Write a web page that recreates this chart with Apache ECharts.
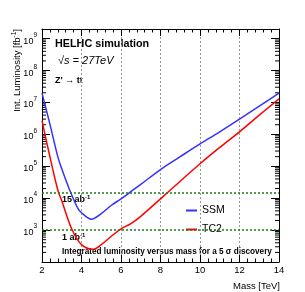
<!DOCTYPE html>
<html>
<head>
<meta charset="utf-8">
<script src="https://cdn.jsdelivr.net/npm/echarts@6/dist/echarts.min.js"></script>
<style>html,body{margin:0;padding:0;background:#fff}#c{width:305px;height:292px}</style>
</head>
<body>
<div id="c"></div>
<script>
// Mass points [TeV]
const massSSM = [2.0, 2.4, 2.8, 3.0, 3.4, 3.8, 4.0, 4.5, 5.0, 5.5, 6.0, 6.5, 7.0, 8.0, 9.0, 10.0, 11.0, 12.0, 13.0, 14.0];
const lumiSSM = [1.95e7, 2.1e6, 2.0e5, 8.3e4, 1.8e4, 5.0e3, 3.5e3, 2.2e3, 3.3e3, 5.9e3, 9.5e3, 1.6e4, 2.7e4, 7.9e4, 2.0e5, 5.0e5, 1.2e6, 3.0e6, 7.6e6, 1.95e7];
const massTC2 = [2.0, 2.4, 2.8, 3.0, 3.5, 4.0, 4.6, 5.0, 5.5, 6.0, 6.5, 7.0, 8.0, 9.0, 10.0, 11.0, 12.0, 13.0, 14.0];
const lumiTC2 = [2.7e6, 2.0e5, 1.8e4, 8.3e3, 1.1e3, 3.5e2, 2.5e2, 3.5e2, 6.3e2, 1.1e3, 1.6e3, 2.7e3, 9.5e3, 3.4e4, 1.2e5, 3.9e5, 1.2e6, 4.0e6, 1.3e7];
// Reference luminosity lines [fb^-1]
const refLumi = [15000, 1000];
const refLabels = ['15 ab{sup|-1}', '1 ab{sup|-1}'];
const seriesNames = ['SSM', 'TC2'];
const xTicks = [2, 4, 6, 8, 10, 12, 14];
// Log-axis minor tick layout (multipliers within each decade)
const yDecades = [1e2, 1e3, 1e4, 1e5, 1e6, 1e7, 1e8, 1e9];
const yMinorMult = [2, 3, 4, 5, 6, 7, 8, 9];

const chart = echarts.init(document.getElementById('c'), null, {renderer: 'canvas'});
const FONT = 'Liberation Sans, Arial, Helvetica, sans-serif';
const toPairs = (xs, ys) => xs.map((x, i) => [x, ys[i]]);
const Y_MIN = 100, Y_MAX = 2e9;
const minorTickData = [];
yDecades.forEach(d => yMinorMult.forEach(m => { if (d * m < Y_MAX) minorTickData.push([2, d * m]); }));

function yLabel(v) {
  const l = Math.log10(v);
  const e = Math.round(l);
  if (Math.abs(l - e) > 0.01) return '';
  return '{b|10}{s|' + e + '}';
}

const baseY = {
  type: 'log', logBase: 10, min: Y_MIN, max: Y_MAX,
  axisLine: {show: true, onZero: false, lineStyle: {color: '#000', width: 1}},
  axisTick: {show: true, inside: true, length: 8, lineStyle: {color: '#000'}},
  splitLine: {show: false},
};
const baseX = {
  type: 'value', min: 2, max: 14, interval: 2,
  axisLine: {show: true, onZero: false, lineStyle: {color: '#000', width: 1}},
  axisTick: {show: true, inside: true, length: 7, lineStyle: {color: '#000'}},
  minorTick: {show: true, splitNumber: 5, length: 3.5, lineStyle: {color: '#000'}},
};

chart.setOption({
  animation: false,
  backgroundColor: '#fff',
  textStyle: {fontFamily: FONT},
  grid: {left: 42, right: 26, top: 29, bottom: 30, containLabel: false},
  xAxis: [
    Object.assign({}, baseX, {
      position: 'bottom',
      splitLine: {show: true, lineStyle: {color: '#999', type: [2, 2], width: 1}},
      axisLabel: {show: true, margin: 3, fontSize: 9.5, color: '#000', fontFamily: FONT,
        formatter: v => xTicks.includes(v) ? String(v) : ''},
      name: 'Mass [TeV]', nameLocation: 'end', nameGap: 1,
      nameTextStyle: {fontSize: 9.5, color: '#000', fontFamily: FONT, align: 'right', verticalAlign: 'top', padding: [19, 0, 0, 0]}
    }),
    Object.assign({}, baseX, {position: 'top', splitLine: {show: false}, axisLabel: {show: false}})
  ],
  yAxis: [
    Object.assign({}, baseY, {
      position: 'left',
      axisLabel: {show: true, margin: 5, color: '#000', fontFamily: FONT, formatter: yLabel,
        showMinLabel: false, showMaxLabel: false,
        rich: {b: {fontSize: 9, fontFamily: FONT, color: '#000', lineHeight: 14, verticalAlign: 'bottom'},
               s: {fontSize: 6.5, fontFamily: FONT, color: '#000', lineHeight: 14, verticalAlign: 'top'}}}
    }),
    Object.assign({}, baseY, {position: 'right', axisLabel: {show: false}})
  ],
  legend: {
    show: true, orient: 'vertical', left: 181, top: 200,
    data: seriesNames, icon: 'rect', itemWidth: 11, itemHeight: 2, itemGap: 8,
    textStyle: {fontSize: 10.5, color: '#000', fontFamily: FONT},
    selectedMode: false
  },
  series: [
    {
      name: seriesNames[0], type: 'line', data: toPairs(massSSM, lumiSSM), smooth: 0.35, symbol: 'none',
      lineStyle: {color: '#3333ff', width: 1.5}, itemStyle: {color: '#3333ff'},
      markLine: {
        silent: true, symbol: 'none', animation: false,
        lineStyle: {color: '#1a7a1a', type: [2, 2], width: 1.5},
        label: {show: false},
        data: refLumi.map(v => ({yAxis: v}))
      }
    },
    {
      name: seriesNames[1], type: 'line', data: toPairs(massTC2, lumiTC2), smooth: 0.35, symbol: 'none',
      lineStyle: {color: '#ff0000', width: 1.5}, itemStyle: {color: '#ff0000'}
    },
    {
      name: 'yMinorTicks', type: 'custom', silent: true, clip: false,
      data: minorTickData,
      encode: {x: 0, y: 1},
      renderItem: function (params, api) {
        const cs = params.coordSys;
        const p = api.coord([api.value(0), api.value(1)]);
        const st = {stroke: '#000', lineWidth: 1};
        return {type: 'group', children: [
          {type: 'line', shape: {x1: cs.x, y1: p[1], x2: cs.x + 4, y2: p[1]}, style: st},
          {type: 'line', shape: {x1: cs.x + cs.width - 4, y1: p[1], x2: cs.x + cs.width, y2: p[1]}, style: st}
        ]};
      }
    }
  ],
  graphic: [
    {type: 'text', x: 17, y: 29, rotation: Math.PI / 2,
      style: {text: 'Int. Luminosity [fb{sup|-1}]', align: 'right', verticalAlign: 'middle',
        font: '9.5px ' + FONT, fill: '#000',
        rich: {sup: {fontSize: 6.5, fontFamily: FONT, verticalAlign: 'top', lineHeight: 13}}}},
    {type: 'text', x: 55, y: 44,
      style: {text: 'HELHC simulation', verticalAlign: 'middle', font: 'bold 10.8px ' + FONT, fill: '#000'}},
    {type: 'text', x: 58, y: 61,
      style: {text: '√s = 27TeV', verticalAlign: 'middle', font: 'italic 11px ' + FONT, fill: '#000'}},
    {type: 'text', x: 55, y: 81,
      style: {text: 'Z\' → tt', verticalAlign: 'middle', font: 'bold 9px ' + FONT, fill: '#000'}},
    {type: 'text', x: 62, y: 200,
      style: {text: refLabels[0], verticalAlign: 'middle', font: 'bold 9px ' + FONT, fill: '#000',
        rich: {sup: {fontSize: 6, fontFamily: FONT, fontWeight: 'bold', verticalAlign: 'top', lineHeight: 12}}}},
    {type: 'text', x: 62, y: 238,
      style: {text: refLabels[1], verticalAlign: 'middle', font: 'bold 9px ' + FONT, fill: '#000',
        rich: {sup: {fontSize: 6, fontFamily: FONT, fontWeight: 'bold', verticalAlign: 'top', lineHeight: 12}}}},
    {type: 'text', x: 62, y: 252,
      style: {text: 'Integrated luminosity versus mass for a 5 σ discovery', verticalAlign: 'middle',
        font: 'bold 8.2px ' + FONT, fill: '#000'}}
  ]
});
</script>
</body>
</html>
